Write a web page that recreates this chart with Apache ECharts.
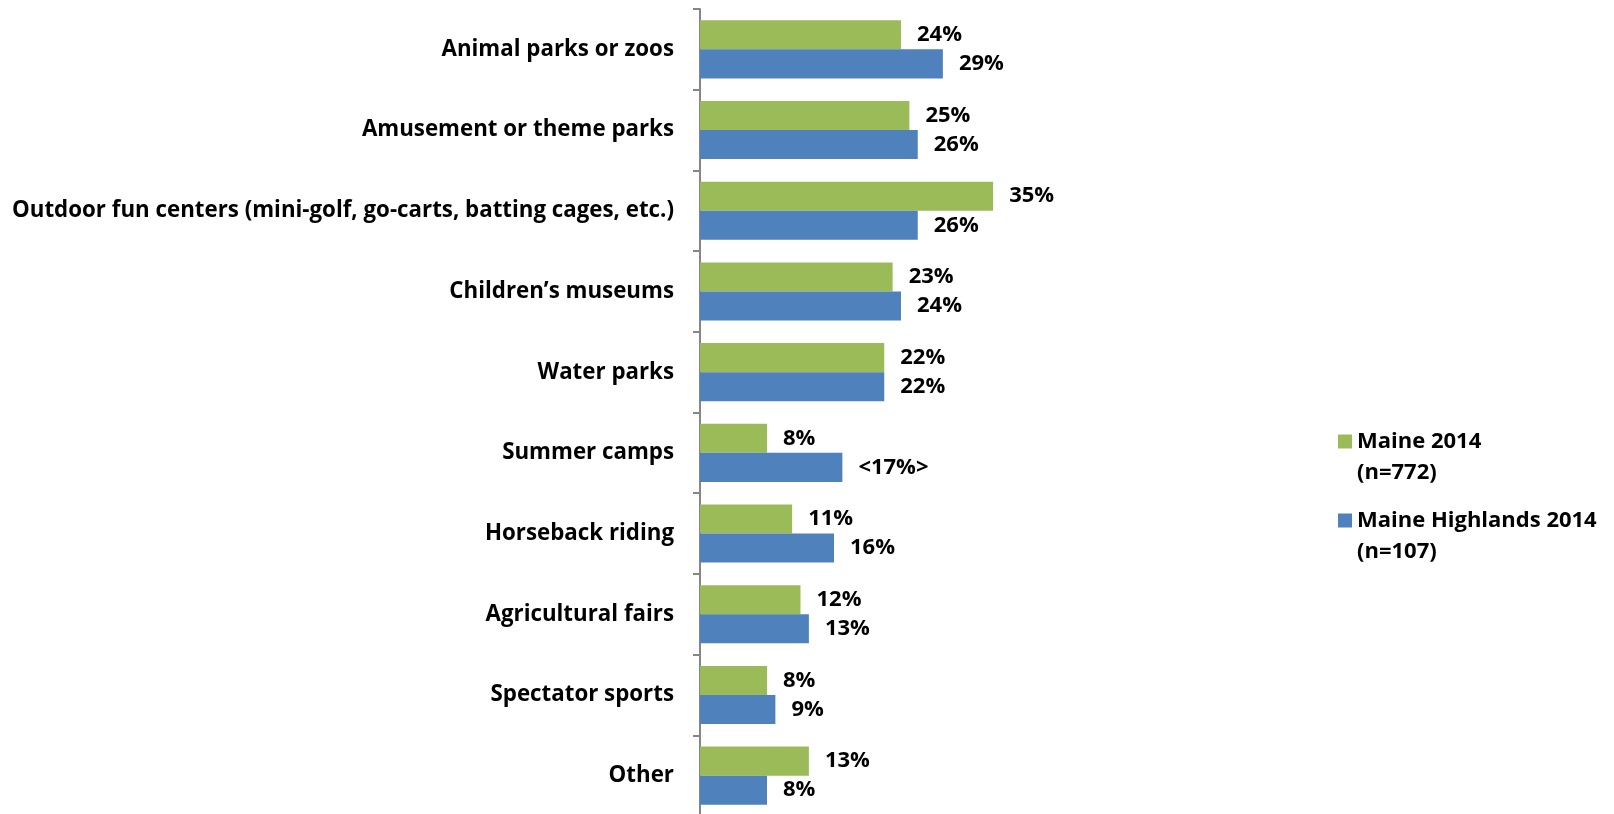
<!DOCTYPE html>
<html>
<head>
<meta charset="utf-8">
<script src="https://cdn.jsdelivr.net/npm/echarts@6/dist/echarts.min.js"></script>
<style>
html,body{margin:0;padding:0;background:#fff;}
#chart{width:1614px;height:814px;}
</style>
</head>
<body>
<div id="chart"></div>
<script>
// Activities categories, listed top to bottom
const categories = [
  'Animal parks or zoos',
  'Amusement or theme parks',
  'Outdoor fun centers (mini-golf, go-carts, batting cages, etc.)',
  'Children\u2019s museums',
  'Water parks',
  'Summer camps',
  'Horseback riding',
  'Agricultural fairs',
  'Spectator sports',
  'Other'
];
// Percent of respondents
const maine2014 = [24, 25, 35, 23, 22, 8, 11, 12, 8, 13];
const highlands2014 = [29, 26, 26, 24, 22, 17, 16, 13, 9, 8];
// Highlands values shown in angle brackets (small-sample caution)
const highlandsBracketed = ['Summer camps'];

const seriesNames = ['Maine 2014\n(n=772)', 'Maine Highlands 2014\n(n=107)'];

const FONT = '"Open Sans"';
const chart = echarts.init(document.getElementById('chart'));

const labelStyle = {
  show: true,
  position: 'right',
  distance: 16,
  color: '#000',
  fontFamily: FONT,
  fontWeight: 'bold',
  fontSize: 22
};

chart.setOption({
  animation: false,
  grid: { left: 700, top: 9, width: 335, height: 807, outerBoundsMode: 'none', containLabel: false },
  xAxis: {
    type: 'value', min: 0, max: 40,
    show: false
  },
  yAxis: {
    type: 'category',
    data: categories,
    inverse: true,
    axisLine: { show: true, lineStyle: { color: '#868686', width: 2 } },
    axisTick: { show: true, length: 7, lineStyle: { color: '#868686', width: 2 } },
    axisLabel: {
      margin: 26, color: '#000', fontFamily: FONT, fontWeight: 'bold', fontSize: 22.3
    }
  },
  legend: {
    orient: 'vertical',
    left: 1333,
    top: 390,
    itemWidth: 14,
    itemHeight: 14,
    itemGap: -14,
    icon: 'rect',
    // leading blank line keeps the swatch level with the first text line
    formatter: name => '\u00a0\n' + name,
    textStyle: {
      color: '#000', fontFamily: FONT, fontWeight: 'bold', fontSize: 22,
      lineHeight: 31
    },
    data: seriesNames
  },
  series: [
    {
      name: seriesNames[0],
      type: 'bar',
      data: maine2014,
      barGap: '0%',
      barCategoryGap: '28%',
      itemStyle: { color: '#9BBB59' },
      label: Object.assign({}, labelStyle, {
        formatter: p => p.value + '%'
      })
    },
    {
      name: seriesNames[1],
      type: 'bar',
      data: highlands2014,
      barGap: '0%',
      barCategoryGap: '28%',
      itemStyle: { color: '#4F81BD' },
      label: Object.assign({}, labelStyle, {
        formatter: p => highlandsBracketed.includes(p.name) ? '<' + p.value + '%>' : p.value + '%'
      })
    }
  ]
});
</script>
</body>
</html>
